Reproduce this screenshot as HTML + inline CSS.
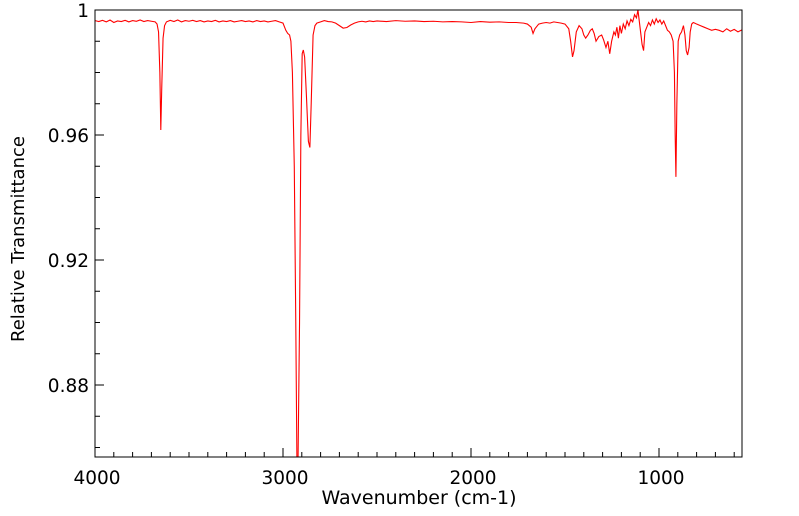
<!DOCTYPE html>
<html><head><meta charset="utf-8"><style>
body{margin:0;background:#fff;}
svg{display:block;font-family:"DejaVu Sans","Liberation Sans",sans-serif;}
</style></head><body>
<svg id="chart" width="799" height="516" viewBox="0 0 799 516"></svg>
<script>
const wavenumbers = [4000,3980,3960,3940,3920,3900,3880,3860,3840,3820,3800,3780,3760,3740,3720,3700,3680,3670,3662,3655,3650,3645,3638,3630,3620,3600,3580,3560,3540,3520,3500,3480,3460,3440,3420,3400,3380,3360,3340,3320,3300,3280,3260,3240,3220,3200,3180,3160,3140,3120,3100,3080,3060,3040,3020,3000,2985,2975,2965,2958,2950,2940,2932,2926,2920,2912,2905,2898,2892,2885,2875,2865,2857,2850,2840,2830,2820,2800,2780,2760,2740,2720,2700,2680,2660,2640,2620,2600,2580,2560,2540,2520,2500,2450,2400,2350,2300,2250,2200,2150,2100,2050,2000,1950,1900,1850,1800,1760,1720,1700,1680,1670,1660,1640,1620,1600,1580,1560,1540,1520,1500,1480,1470,1460,1452,1440,1425,1410,1400,1390,1378,1365,1355,1345,1335,1320,1305,1295,1282,1272,1262,1252,1240,1232,1224,1216,1208,1200,1190,1180,1170,1160,1150,1140,1130,1120,1112,1104,1096,1090,1082,1075,1065,1055,1045,1035,1025,1015,1005,995,985,975,965,955,945,935,925,918,914,910,905,898,890,880,870,862,855,848,840,834,826,818,810,800,780,760,740,720,700,680,660,640,620,600,580,560];
const transmittance = [0.9966,0.9963,0.9967,0.9962,0.9968,0.9960,0.9965,0.9963,0.9967,0.9962,0.9966,0.9964,0.9968,0.9963,0.9966,0.9964,0.9962,0.9955,0.9930,0.9800,0.9616,0.9750,0.9910,0.9950,0.9962,0.9967,0.9963,0.9968,0.9962,0.9966,0.9964,0.9967,0.9963,0.9966,0.9962,0.9965,0.9963,0.9967,0.9962,0.9965,0.9963,0.9966,0.9962,0.9964,0.9966,0.9963,0.9965,0.9962,0.9966,0.9963,0.9965,0.9962,0.9964,0.9966,0.9962,0.9958,0.9935,0.9925,0.9920,0.9900,0.9800,0.9500,0.9000,0.8560,0.8560,0.9000,0.9600,0.9860,0.9872,0.9850,0.9720,0.9580,0.9560,0.9700,0.9920,0.9950,0.9958,0.9962,0.9966,0.9963,0.9962,0.9958,0.9950,0.9942,0.9944,0.9952,0.9958,0.9962,0.9964,0.9962,0.9965,0.9963,0.9965,0.9963,0.9966,0.9964,0.9965,0.9963,0.9964,0.9962,0.9963,0.9962,0.9960,0.9963,0.9961,0.9962,0.9960,0.9960,0.9958,0.9955,0.9945,0.9925,0.9940,0.9955,0.9958,0.9960,0.9958,0.9962,0.9960,0.9958,0.9955,0.9940,0.9900,0.9850,0.9870,0.9930,0.9950,0.9940,0.9920,0.9910,0.9920,0.9935,0.9940,0.9925,0.9900,0.9915,0.9920,0.9905,0.9880,0.9900,0.9860,0.9900,0.9930,0.9920,0.9945,0.9910,0.9950,0.9925,0.9955,0.9940,0.9965,0.9950,0.9970,0.9962,0.9985,0.9975,1.0000,0.9960,0.9920,0.9890,0.9870,0.9930,0.9945,0.9960,0.9950,0.9968,0.9955,0.9972,0.9960,0.9968,0.9955,0.9965,0.9950,0.9935,0.9930,0.9920,0.9900,0.9800,0.9600,0.9466,0.9700,0.9900,0.9920,0.9930,0.9950,0.9920,0.9870,0.9856,0.9880,0.9930,0.9955,0.9960,0.9958,0.9955,0.9950,0.9945,0.9940,0.9935,0.9938,0.9935,0.9930,0.9940,0.9932,0.9938,0.9930,0.9936,0.9928];
const xTicks = [4000,3000,2000,1000];
const yTicks = [1,0.96,0.92,0.88];
const yTickLabels = ["1","0.96","0.92","0.88"];

const L=95,R=742,T=10,B=457;
const wnMax=4000, wnMin=4000-(R-L)/0.188;
const tMax=1, tMin=1-(B-T)/3125;
const sx=w=>L+(wnMax-w)/(wnMax-wnMin)*(R-L);
const sy=t=>T+(tMax-t)/(tMax-tMin)*(B-T);
const svg=document.getElementById('chart');
const NS='http://www.w3.org/2000/svg';
function mk(tag,attrs){const e=document.createElementNS(NS,tag);for(const k in attrs)e.setAttribute(k,attrs[k]);svg.appendChild(e);return e;}

const clip=document.createElementNS(NS,'clipPath');clip.setAttribute('id','pc');
const cr=document.createElementNS(NS,'rect');cr.setAttribute('x',L);cr.setAttribute('y',T);cr.setAttribute('width',R-L);cr.setAttribute('height',B-T);
clip.appendChild(cr);svg.appendChild(clip);

let d='';
wavenumbers.forEach((w,i)=>{d+=(i?'L':'M')+sx(w).toFixed(2)+','+sy(transmittance[i]).toFixed(2);});
const line=mk('path',{d:d,fill:'none',stroke:'#ff0000','stroke-width':1.1,'clip-path':'url(#pc)'});



const frame=mk('rect',{x:L,y:T,width:R-L,height:B-T,fill:'none',stroke:'#000','stroke-width':1});



for(let w=4000;w>=wnMin;w-=100){
  const major=(w%1000===0);
  const t=mk('line',{x1:sx(w),x2:sx(w),y1:B,y2:B-(major?9:5),stroke:'#000','stroke-width':1});
  
  
}
xTicks.forEach(w=>{
  const t=mk('text',{x:sx(w)+2,y:B+27,'text-anchor':'middle','font-size':18.5,fill:'#000'});
  t.textContent=String(w);
  
  
});
for(let k=0;;k++){
  const v=1-k*0.01; if(v<tMin)break;
  const major=(k%4===0);
  const t=mk('line',{x1:L,x2:L+(major?9:5),y1:sy(v),y2:sy(v),stroke:'#000','stroke-width':1});
  
  
}
yTicks.forEach((v,i)=>{
  const t=mk('text',{x:L-6,y:sy(v)+7,'text-anchor':'end','font-size':18.5,fill:'#000'});
  t.textContent=yTickLabels[i];
  
  
});
const xt=mk('text',{x:419,y:504,'text-anchor':'middle','font-size':19,fill:'#000'});
xt.textContent='Wavenumber (cm-1)';


const yt=mk('text',{x:0,y:0,'text-anchor':'middle','font-size':18,fill:'#000',transform:'translate(24,239) rotate(-90)'});
yt.textContent='Relative Transmittance';


</script>
</body></html>
